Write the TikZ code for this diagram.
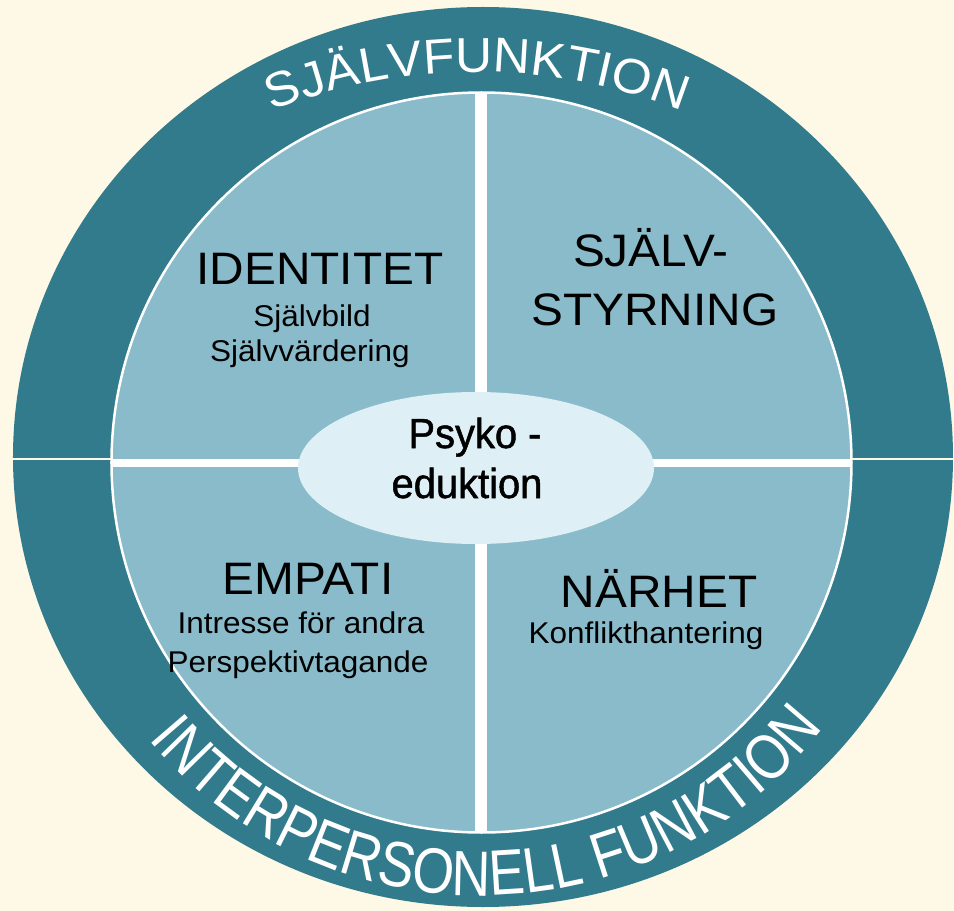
\documentclass[tikz,border=0pt]{standalone}
\usepackage{fontspec}
\setmainfont[FakeStretch=1.05]{Liberation Sans}
\newfontfamily\psykofont[FakeStretch=0.95,FakeBold=1.2]{Liberation Sans}
\newfontfamily\archfont[FakeStretch=0.84]{Liberation Sans}
\usepackage{xcolor}
\usepackage{tikz}
\usetikzlibrary{shapes,positioning,decorations.text}

\definecolor{creambg}{RGB}{254,248,230}
\definecolor{ringteal}{RGB}{49,123,140}
\definecolor{quadblue}{RGB}{137,187,202}
\definecolor{psykoblue}{RGB}{222,240,245}

\tikzset{
  quadhead/.style={font=\fontsize{45.5}{45.5}\selectfont, anchor=base, inner sep=0pt},
  quadsub/.style={font=\fontsize{30}{30}\selectfont, anchor=base, inner sep=0pt},
  psykoform/.style={ellipse, fill=psykoblue, minimum width=356pt, minimum height=152pt, inner sep=0pt},
  psykotext/.style={font=\psykofont\fontsize{42}{42}\selectfont, anchor=base, inner sep=0pt}
}

\begin{document}
\begin{tikzpicture}[x=1pt, y=1pt]
            % Background and ring
            \fill[creambg] (-481.5,-448.5) rectangle (472.5,462.5);
            \useasboundingbox (-481.5,-448.5) rectangle (472.5,462.5);
            \fill[ringteal] (1.5,5.5) ellipse [x radius=470, y radius=450];
            \draw[creambg, line width=2pt] (-481.5,3.5) -- (472.5,3.5);

            % Quadrants
            \draw[white, line width=2.5pt, fill=quadblue] (0,0) circle [radius=370];
            \fill[white] (-370,-4.5) rectangle (370,3.5);
            \fill[white] (-6.5,-370) rectangle (5.5,370);

            % Centre
            \node[psykoform] (psyko) at (-5.5,-5.5) {};
            \node[psykotext] (psykoA) at (-6.5,14.5) {Psyko -};
            \node[psykotext] (psykoB) at (-14.5,-35.5) {eduktion};

            % Top left
            \node[quadhead] (ident) at (-161.5,177.5) {IDENTITET};
            \node[quadsub] (identA) at (-169.5,135.5) {Självbild};
            \node[quadsub] (identB) at (-171.5,100.5) {Självvärdering};

            % Top right
            \node[quadhead] (styrA) at (169.5,195.5) {SJÄLV-};
            \node[quadhead] (styrB) at (173.5,136.5) {STYRNING};

            % Bottom left
            \node[quadhead] (empati) at (-173.5,-131.5) {EMPATI};
            \node[quadsub] (empatiA) at (-180.5,-170.5) {Intresse för andra};
            \node[quadsub] (empatiB) at (-183.5,-209.5) {Perspektivtagande};

            % Bottom right
            \node[quadhead] (narhet) at (177.5,-144.5) {NÄRHET};
            \node[quadsub] (narhetA) at (164.5,-180.5) {Konflikthantering};

            % Ring texts
            \path[decorate, decoration={text along path, text align=center, text color=white,
                text={|\fontsize{49}{49}\selectfont|SJÄLVFUNKTION}}]
                ([shift={(130:560)}]-4.5,-169.5) arc [start angle=130, end angle=50, radius=560];
            \path[decorate, decoration={text along path, text align=center, text color=white,
                text={|\archfont\fontsize{64}{64}\selectfont|INTERPERSONELL FUNKTION}}]
                (201:433) arc [start angle=201, end angle=341, radius=433];
        \end{tikzpicture}
\end{document}
